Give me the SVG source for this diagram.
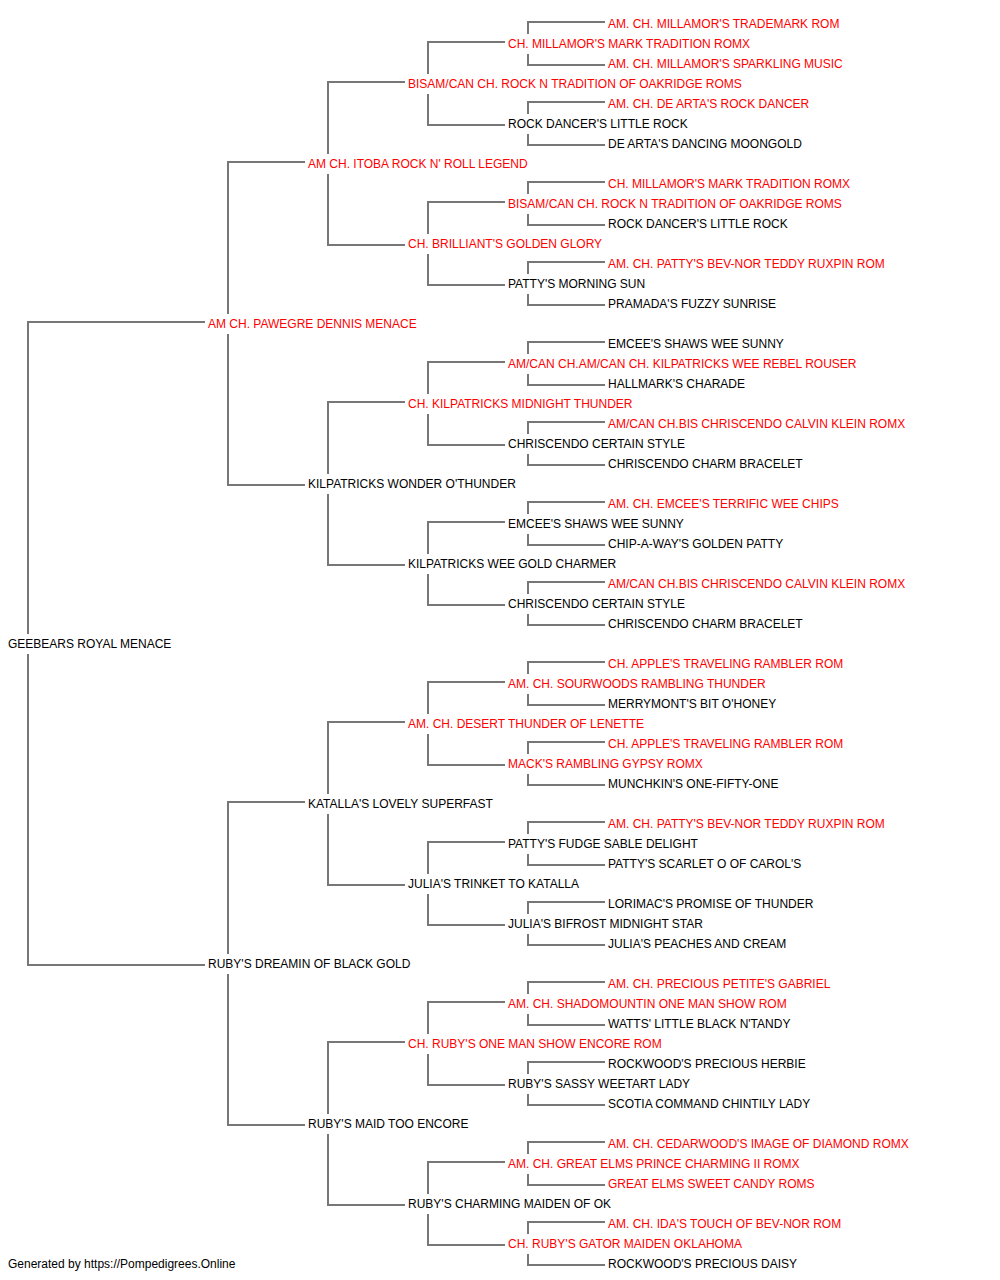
<svg xmlns="http://www.w3.org/2000/svg" width="1000" height="1280" viewBox="0 0 1000 1280">
<style>
text{font-family:"Liberation Sans",Arial,sans-serif;font-size:12px;fill:#000}
.r{fill:#ff0000}
#connectors path{fill:none;stroke:#777777;stroke-width:2}
</style>
<rect width="1000" height="1280" fill="#ffffff"/>
<g id="connectors">
<path d="M205 322 H28 V634 M28 654 V965 H205"/>
<path d="M305 162 H228 V314 M228 334 V485 H305"/>
<path d="M305 802 H228 V954 M228 974 V1125 H305"/>
<path d="M405 82 H328 V154 M328 174 V245 H405"/>
<path d="M405 402 H328 V474 M328 494 V565 H405"/>
<path d="M405 722 H328 V794 M328 814 V885 H405"/>
<path d="M405 1042 H328 V1114 M328 1134 V1205 H405"/>
<path d="M505 42 H428 V74 M428 94 V125 H505"/>
<path d="M505 202 H428 V234 M428 254 V285 H505"/>
<path d="M505 362 H428 V394 M428 414 V445 H505"/>
<path d="M505 522 H428 V554 M428 574 V605 H505"/>
<path d="M505 682 H428 V714 M428 734 V765 H505"/>
<path d="M505 842 H428 V874 M428 894 V925 H505"/>
<path d="M505 1002 H428 V1034 M428 1054 V1085 H505"/>
<path d="M505 1162 H428 V1194 M428 1214 V1245 H505"/>
<path d="M605 22 H528 V34 M528 54 V65 H605"/>
<path d="M605 102 H528 V114 M528 134 V145 H605"/>
<path d="M605 182 H528 V194 M528 214 V225 H605"/>
<path d="M605 262 H528 V274 M528 294 V305 H605"/>
<path d="M605 342 H528 V354 M528 374 V385 H605"/>
<path d="M605 422 H528 V434 M528 454 V465 H605"/>
<path d="M605 502 H528 V514 M528 534 V545 H605"/>
<path d="M605 582 H528 V594 M528 614 V625 H605"/>
<path d="M605 662 H528 V674 M528 694 V705 H605"/>
<path d="M605 742 H528 V754 M528 774 V785 H605"/>
<path d="M605 822 H528 V834 M528 854 V865 H605"/>
<path d="M605 902 H528 V914 M528 934 V945 H605"/>
<path d="M605 982 H528 V994 M528 1014 V1025 H605"/>
<path d="M605 1062 H528 V1074 M528 1094 V1105 H605"/>
<path d="M605 1142 H528 V1154 M528 1174 V1185 H605"/>
<path d="M605 1222 H528 V1234 M528 1254 V1265 H605"/>
</g>
<g id="g0"><text x="8" y="648">GEEBEARS ROYAL MENACE</text></g>
<g id="g1a"><text class="r" x="208" y="328">AM CH. PAWEGRE DENNIS MENACE</text></g>
<g id="g1b"><text x="208" y="968">RUBY'S DREAMIN OF BLACK GOLD</text></g>
<g id="g2a"><text class="r" x="308" y="168">AM CH. ITOBA ROCK N' ROLL LEGEND</text></g>
<g id="g2b"><text x="308" y="488">KILPATRICKS WONDER O'THUNDER</text></g>
<g id="g2c"><text x="308" y="808">KATALLA'S LOVELY SUPERFAST</text></g>
<g id="g2d"><text x="308" y="1128">RUBY'S MAID TOO ENCORE</text></g>
<g id="g3a"><text class="r" x="408" y="88">BISAM/CAN CH. ROCK N TRADITION OF OAKRIDGE ROMS</text></g>
<g id="g3b"><text class="r" x="408" y="248">CH. BRILLIANT'S GOLDEN GLORY</text></g>
<g id="g3c"><text class="r" x="408" y="408">CH. KILPATRICKS MIDNIGHT THUNDER</text></g>
<g id="g3d"><text x="408" y="568">KILPATRICKS WEE GOLD CHARMER</text></g>
<g id="g3e"><text class="r" x="408" y="728">AM. CH. DESERT THUNDER OF LENETTE</text></g>
<g id="g3f"><text x="408" y="888">JULIA'S TRINKET TO KATALLA</text></g>
<g id="g3g"><text class="r" x="408" y="1048">CH. RUBY'S ONE MAN SHOW ENCORE ROM</text></g>
<g id="g3h"><text x="408" y="1208">RUBY'S CHARMING MAIDEN OF OK</text></g>
<g id="g4a"><text class="r" x="508" y="48">CH. MILLAMOR'S MARK TRADITION ROMX</text></g>
<g id="g4b"><text x="508" y="128">ROCK DANCER'S LITTLE ROCK</text></g>
<g id="g4c"><text class="r" x="508" y="208">BISAM/CAN CH. ROCK N TRADITION OF OAKRIDGE ROMS</text></g>
<g id="g4d"><text x="508" y="288">PATTY'S MORNING SUN</text></g>
<g id="g4e"><text class="r" x="508" y="368">AM/CAN CH.AM/CAN CH. KILPATRICKS WEE REBEL ROUSER</text></g>
<g id="g4f"><text x="508" y="448">CHRISCENDO CERTAIN STYLE</text></g>
<g id="g4g"><text x="508" y="528">EMCEE'S SHAWS WEE SUNNY</text></g>
<g id="g4h"><text x="508" y="608">CHRISCENDO CERTAIN STYLE</text></g>
<g id="g4i"><text class="r" x="508" y="688">AM. CH. SOURWOODS RAMBLING THUNDER</text></g>
<g id="g4j"><text class="r" x="508" y="768">MACK'S RAMBLING GYPSY ROMX</text></g>
<g id="g4k"><text x="508" y="848">PATTY'S FUDGE SABLE DELIGHT</text></g>
<g id="g4l"><text x="508" y="928">JULIA'S BIFROST MIDNIGHT STAR</text></g>
<g id="g4m"><text class="r" x="508" y="1008">AM. CH. SHADOMOUNTIN ONE MAN SHOW ROM</text></g>
<g id="g4n"><text x="508" y="1088">RUBY'S SASSY WEETART LADY</text></g>
<g id="g4o"><text class="r" x="508" y="1168">AM. CH. GREAT ELMS PRINCE CHARMING II ROMX</text></g>
<g id="g4p"><text class="r" x="508" y="1248">CH. RUBY'S GATOR MAIDEN OKLAHOMA</text></g>
<g id="g5a"><text class="r" x="608" y="28">AM. CH. MILLAMOR'S TRADEMARK ROM</text></g>
<g id="g5b"><text class="r" x="608" y="68">AM. CH. MILLAMOR'S SPARKLING MUSIC</text></g>
<g id="g5c"><text class="r" x="608" y="108">AM. CH. DE ARTA'S ROCK DANCER</text></g>
<g id="g5d"><text x="608" y="148">DE ARTA'S DANCING MOONGOLD</text></g>
<g id="g5e"><text class="r" x="608" y="188">CH. MILLAMOR'S MARK TRADITION ROMX</text></g>
<g id="g5f"><text x="608" y="228">ROCK DANCER'S LITTLE ROCK</text></g>
<g id="g5g"><text class="r" x="608" y="268">AM. CH. PATTY'S BEV-NOR TEDDY RUXPIN ROM</text></g>
<g id="g5h"><text x="608" y="308">PRAMADA'S FUZZY SUNRISE</text></g>
<g id="g5i"><text x="608" y="348">EMCEE'S SHAWS WEE SUNNY</text></g>
<g id="g5j"><text x="608" y="388">HALLMARK'S CHARADE</text></g>
<g id="g5k"><text class="r" x="608" y="428">AM/CAN CH.BIS CHRISCENDO CALVIN KLEIN ROMX</text></g>
<g id="g5l"><text x="608" y="468">CHRISCENDO CHARM BRACELET</text></g>
<g id="g5m"><text class="r" x="608" y="508">AM. CH. EMCEE'S TERRIFIC WEE CHIPS</text></g>
<g id="g5n"><text x="608" y="548">CHIP-A-WAY'S GOLDEN PATTY</text></g>
<g id="g5o"><text class="r" x="608" y="588">AM/CAN CH.BIS CHRISCENDO CALVIN KLEIN ROMX</text></g>
<g id="g5p"><text x="608" y="628">CHRISCENDO CHARM BRACELET</text></g>
<g id="g5q"><text class="r" x="608" y="668">CH. APPLE'S TRAVELING RAMBLER ROM</text></g>
<g id="g5r"><text x="608" y="708">MERRYMONT'S BIT O'HONEY</text></g>
<g id="g5s"><text class="r" x="608" y="748">CH. APPLE'S TRAVELING RAMBLER ROM</text></g>
<g id="g5t"><text x="608" y="788">MUNCHKIN'S ONE-FIFTY-ONE</text></g>
<g id="g5u"><text class="r" x="608" y="828">AM. CH. PATTY'S BEV-NOR TEDDY RUXPIN ROM</text></g>
<g id="g5v"><text x="608" y="868">PATTY'S SCARLET O OF CAROL'S</text></g>
<g id="g5w"><text x="608" y="908">LORIMAC'S PROMISE OF THUNDER</text></g>
<g id="g5x"><text x="608" y="948">JULIA'S PEACHES AND CREAM</text></g>
<g id="g5y"><text class="r" x="608" y="988">AM. CH. PRECIOUS PETITE'S GABRIEL</text></g>
<g id="g5z"><text x="608" y="1028">WATTS' LITTLE BLACK N'TANDY</text></g>
<g id="g5aa"><text x="608" y="1068">ROCKWOOD'S PRECIOUS HERBIE</text></g>
<g id="g5ab"><text x="608" y="1108">SCOTIA COMMAND CHINTILY LADY</text></g>
<g id="g5ac"><text class="r" x="608" y="1148">AM. CH. CEDARWOOD'S IMAGE OF DIAMOND ROMX</text></g>
<g id="g5ad"><text class="r" x="608" y="1188">GREAT ELMS SWEET CANDY ROMS</text></g>
<g id="g5ae"><text class="r" x="608" y="1228">AM. CH. IDA'S TOUCH OF BEV-NOR ROM</text></g>
<g id="g5af"><text x="608" y="1268">ROCKWOOD'S PRECIOUS DAISY</text></g>
<g id="footer"><text x="8" y="1268">Generated by https://Pompedigrees.Online</text></g>
</svg>
